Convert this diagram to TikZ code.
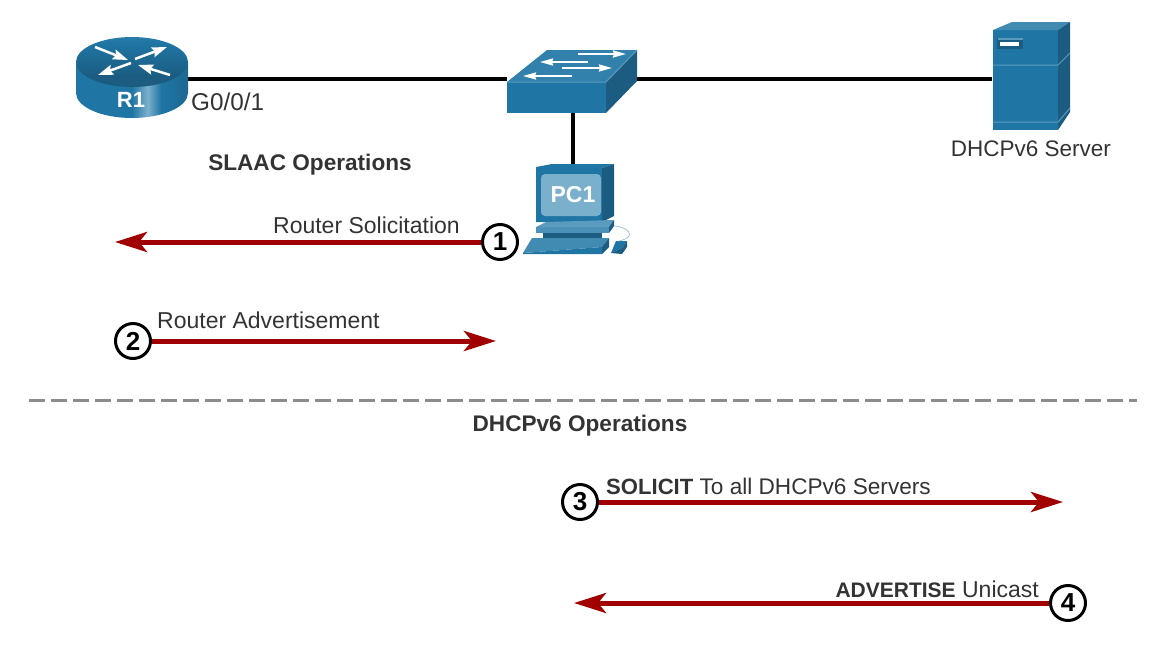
\documentclass[tikz,border=0pt]{standalone}
\usepackage{fontspec}
\setmainfont{Liberation Sans}
\usetikzlibrary{arrows.meta}
\definecolor{devblue}{HTML}{1F76A5}
\definecolor{devdark}{HTML}{1B5C80}
\definecolor{devlight}{HTML}{5B9CBE}
\definecolor{screenblue}{HTML}{7BB0CC}
\definecolor{msgred}{HTML}{A00000}
\definecolor{labelgrey}{HTML}{333333}
\pgfdeclarehorizontalshading{routerside}{100bp}{color(0bp)=(devdark!90!black); color(25bp)=(devblue); color(50bp)=(devblue); color(57bp)=(screenblue); color(63bp)=(devblue); color(85bp)=(devdark); color(100bp)=(devdark!70!black)}
\pgfdeclareverticalshading{routertop}{100bp}{color(0bp)=(devdark); color(35bp)=(devdark); color(70bp)=(devblue); color(100bp)=(devlight)}
\newcommand{\msgbold}[1]{{\fontsize{22.1}{27}\selectfont\bfseries #1}}
\tikzset{
    x=1pt, y=-1pt,
    lbl/.style={font=\fontsize{23}{27}\selectfont, text=labelgrey, inner sep=0pt},
    boldlbl/.style={lbl, font=\fontsize{22.6}{27}\selectfont\bfseries},
    link/.style={draw=black, line width=4pt},
    msg/.style={draw=msgred, line width=5pt, -{Stealth[length=32pt, width=20pt, inset=8pt]}},
    num/.style={circle, draw=black, line width=3pt, fill=white, minimum size=35pt, inner sep=0pt, font=\fontsize{26}{26}\selectfont\bfseries},
    devbox/.style={inner sep=0pt, minimum width=#1},
    whitearrow/.style={draw=white, line width=2.5pt, -{Stealth[length=15pt, width=10pt, inset=2pt]}},
    swarrow/.style={draw=white, line width=2pt, -{Stealth[length=13pt, width=7pt, inset=1pt]}},
    edge/.style={draw=devlight, line width=1pt},
}
\begin{document}
\begin{tikzpicture}
    \useasboundingbox (0,0) rectangle (1164,651);

    % device outlines, used by the links
    \node[devbox=112pt, minimum height=56pt] (r1) at (132,79) {};
    \node[devbox=130pt, minimum height=56pt] (sw) at (572,79) {};
    \node[devbox=77pt, minimum height=108pt] (srv) at (1031,79) {};
    \node[devbox=72pt, minimum height=2pt] (pc1) at (573,165) {};

    \draw[link] (r1) -- (sw);
    \draw[link] (sw) -- (srv);
    \draw[link] (573,113) -- (pc1);

    % router
    \path[shading=routerside] (76,62) -- (76,93) arc (180:0:56 and 25) -- (188,62) -- cycle;
    \path[shading=routertop] (132,62) ellipse (56 and 25);
    \draw[whitearrow] (95,47) -- (128,60);
    \draw[whitearrow] (135,59) -- (167,47);
    \draw[whitearrow] (131,63) -- (98,75);
    \draw[whitearrow] (170,75) -- (138,65);
    \node[font=\fontsize{22}{22}\selectfont\bfseries, text=white, inner sep=0pt] (r1name) at (131,100) {R1};

    % switch
    \fill[devblue] (507,82) rectangle (606,113);
    \fill[devblue!92!white] (507,82) -- (547,50) -- (637,50) -- (606,82) -- cycle;
    \fill[devdark] (606,82) -- (637,50) -- (637,81) -- (606,113) -- cycle;
    \draw[edge] (507,82) -- (606,82) -- (637,50);
    \draw[swarrow] (578,54) -- (626,54);
    \draw[swarrow] (588,62) -- (540,62);
    \draw[swarrow] (562,68) -- (612,68);
    \draw[swarrow] (572,76) -- (523,76);

    % pc
    \fill[devblue] (536,167) -- (552,164) -- (614,164) -- (602,168) -- (602,222) -- (536,222) -- cycle;
    \fill[devdark] (602,168) -- (614,164) -- (614,216) -- (602,222) -- cycle;
    \fill[screenblue, rounded corners=4pt] (541,174) rectangle (601,216);
    \node[font=\fontsize{23}{23}\selectfont\bfseries, text=white, inner sep=0pt] (pc1name) at (573,195) {PC1};
    \fill[devlight] (536,227) -- (546,222) -- (614,220) -- (609,227) -- cycle;
    \fill[devblue!80!white] (536,227) rectangle (609,233);
    \fill[devdark] (609,227) -- (614,220) -- (614,226) -- (609,233) -- cycle;
    \fill[devdark] (543,233) rectangle (602,238);
    \fill[devblue!85!white] (523,253) -- (532,238) -- (609,238) -- (602,247) -- cycle;
    \fill[devblue] (523,253) -- (602,247) -- (602,254) -- (523,254) -- cycle;
    \fill[devdark] (602,247) -- (609,238) -- (609,247) -- (602,254) -- cycle;
    \fill[devblue] (611,253) -- (616,241) -- (627,241) -- (622,248) -- cycle;
    \fill[devdark] (611,253) -- (622,248) -- (627,241) -- (627,247) -- (622,254) -- cycle;
    \draw[devlight!70!white, line width=0.6pt] (614,226) .. controls (625,226) and (640,236) .. (619,241);

    % server
    \fill[devblue] (993,30) rectangle (1058,130);
    \fill[devblue!85!white] (993,30) -- (1012,22) -- (1070,22) -- (1058,30) -- cycle;
    \fill[devdark] (1058,30) -- (1070,22) -- (1070,112) -- (1058,130) -- cycle;
    \draw[edge] (993,65) -- (1058,65) -- (1070,53);
    \draw[edge] (993,122) -- (1058,122) -- (1070,108);
    \fill[devdark] (997,38) rectangle (1023,49);
    \fill[devlight] (998,38) rectangle (1023,40);
    \fill[white] (1000,42) rectangle (1019,46);

    % labels of the devices
    \node[lbl, anchor=west, font=\fontsize{24.3}{27}\selectfont] (port) at (191,102) {G0/0/1};
    \node[lbl, font=\fontsize{22.5}{27}\selectfont] (srvname) at (1031,149) {DHCPv6 Server};
    \node[boldlbl] (slaac) at (310,165) {SLAAC Operations};
    \node[boldlbl] (dhcp) at (580,426) {DHCPv6 Operations};

    \coordinate (sepl) at (29,400);
    \coordinate (sepr) at (1137,400);
    \draw[draw=black!45, line width=3pt, dash pattern=on 16pt off 6pt] (sepl) -- (sepr);

    % messages
    \coordinate (end1) at (115,242);
    \coordinate (end2) at (496,341);
    \coordinate (end3) at (1063,502);
    \coordinate (end4) at (574,603);
    \node[num] (n1) at (500,242) {1};
    \node[num] (n2) at (133,341) {2};
    \node[num] (n3) at (580,502) {3};
    \node[num] (n4) at (1068,603) {4};
    \draw[msg] (n1) -- (end1);
    \draw[msg] (n2) -- (end2);
    \draw[msg] (n3) -- (end3);
    \draw[msg] (n4) -- (end4);

    \node[lbl, anchor=east] (m1) at (460,225) {Router Solicitation};
    \node[lbl, anchor=west] (m2) at (157,320) {Router Advertisement};
    \node[lbl, anchor=west, font=\fontsize{22.6}{27}\selectfont] (m3) at (606,486) {\msgbold{SOLICIT} To all DHCPv6 Servers};
    \node[lbl, anchor=east] (m4) at (1039,589) {{\fontsize{21}{27}\selectfont\bfseries ADVERTISE} Unicast};
\end{tikzpicture}
\end{document}
